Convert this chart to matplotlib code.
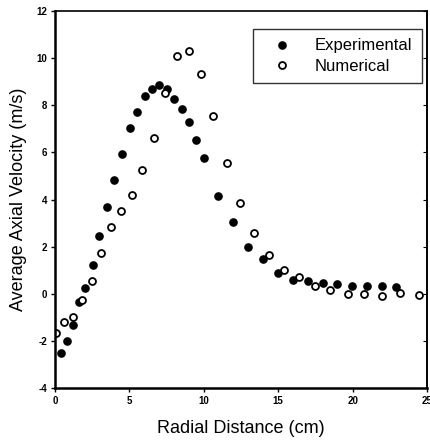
import matplotlib
matplotlib.use("Agg")
import matplotlib.pyplot as plt

plt.rcParams['font.family'] = ['Liberation Sans', 'DejaVu Sans']

# Experimental (filled circles)
exp_x = [0.4, 0.83, 1.23, 1.64, 2.04, 2.53, 2.98, 3.48, 3.99, 4.51, 5.04, 5.51,
         6.03, 6.52, 7.02, 7.51, 8.0, 8.52, 9.01, 9.5, 10.0, 10.98, 11.99, 13.0,
         14.01, 14.97, 15.98, 16.99, 17.98, 18.96, 19.97, 20.98, 21.97, 22.93]
exp_y = [-2.50, -1.99, -1.33, -0.35, 0.23, 1.22, 2.45, 3.67, 4.83, 5.92, 7.05, 7.71,
         8.38, 8.70, 8.87, 8.70, 8.29, 7.83, 7.30, 6.52, 5.76, 4.16, 3.04, 2.00,
         1.46, 0.89, 0.58, 0.53, 0.47, 0.41, 0.34, 0.34, 0.33, 0.30]

# Numerical (open circles)
num_x = [0.04, 0.61, 1.19, 1.82, 2.47, 3.07, 3.75, 4.42, 5.16, 5.87, 6.64, 7.38,
         8.2, 8.99, 9.82, 10.63, 11.59, 12.44, 13.4, 14.39, 15.38, 16.41, 17.44,
         18.51, 19.66, 20.76, 21.97, 23.16, 24.48]
num_y = [-1.68, -1.19, -0.97, -0.27, 0.53, 1.72, 2.82, 3.52, 4.18, 5.25, 6.62, 8.51,
         10.08, 10.29, 9.33, 7.56, 5.56, 3.84, 2.56, 1.63, 1.01, 0.73, 0.33,
         0.15, 0.01, 0.0, -0.08, 0.03, -0.05]

x_ticks = [0, 5, 10, 15, 20, 25]
y_ticks = [-4, -2, 0, 2, 4, 6, 8, 10, 12]

fig = plt.figure(figsize=(4.3, 4.47), dpi=100)
ax = fig.add_axes([0.128, 0.132, 0.865, 0.843])

ax.plot(exp_x, exp_y, 'o', color='black', markersize=5.2, label='Experimental')
ax.plot(num_x, num_y, 'o', markerfacecolor='white', markeredgecolor='black',
        markeredgewidth=1.3, markersize=5.0, label='Numerical')

ax.set_xlim(0, 25)
ax.set_ylim(-4, 12)
ax.set_xticks(x_ticks)
ax.set_yticks(y_ticks)
ax.set_xticklabels([str(t) for t in x_ticks], fontsize=7, fontweight='bold')
ax.set_yticklabels([str(t) for t in y_ticks], fontsize=7, fontweight='bold')
ax.tick_params(axis='both', direction='out', length=3, width=1, pad=2.5)

# small inward ticks on the right spine
right = ax.secondary_yaxis('right')
right.set_yticks(y_ticks)
right.tick_params(direction='in', length=3, width=0.8, labelright=False)
right.spines['right'].set_linewidth(1.2)

for s in ax.spines.values():
    s.set_linewidth(1.2)
ax.spines['left'].set_linewidth(1.8)
ax.spines['bottom'].set_linewidth(1.8)

ax.set_xlabel('Radial Distance (cm)', fontsize=13, labelpad=10)
ax.set_ylabel('Average Axial Velocity (m/s)', fontsize=13, labelpad=7)

leg = ax.legend(loc='upper right', bbox_to_anchor=(0.986, 0.952), borderaxespad=0,
                fontsize=12, frameon=True, fancybox=False, edgecolor='black',
                handletextpad=0.8, borderpad=0.55, labelspacing=0.35,
                handlelength=2.36)
leg.get_frame().set_linewidth(1.0)

fig.savefig('out.png', dpi=100)
